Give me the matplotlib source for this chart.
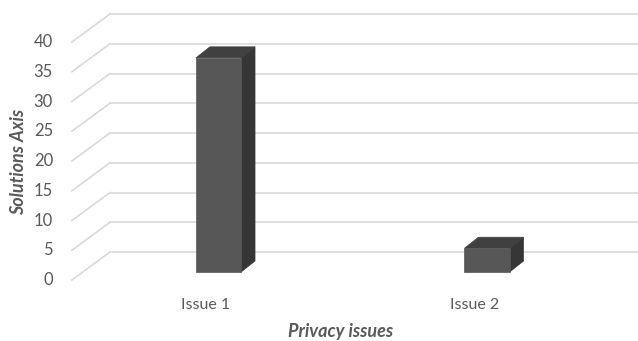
import matplotlib
matplotlib.use("Agg")
import matplotlib.pyplot as plt
from matplotlib.patches import Polygon

categories = ["Issue 1", "Issue 2"]
values = [36, 4]
yticks = [0, 5, 10, 15, 20, 25, 30, 35, 40]

# geometry (data units: x = category slot, y = value)
bar_w = 0.168
bar_dx, bar_dy = 0.052, 1.85      # depth of each bar
base_dy = 1.34                    # bars sit a little behind the front plane
wall_x = -0.546                   # left edge of floor / wall
wall_dx, wall_dy = 0.1415, 4.7    # depth of the floor

fig = plt.figure(figsize=(6.38, 3.41), dpi=100)
ax = fig.add_axes([0, 0, 1, 1])
ax.set_xlim(-0.8138, 1.5624)
ax.set_ylim(-10.25, 47.06)
ax.axis("off")

grid_c = "#d9d9d9"
for v in yticks:
    ax.plot([wall_x, wall_x + wall_dx], [v, v + wall_dy], color=grid_c, lw=1.2, zorder=1)
    ax.plot([wall_x + wall_dx, 1.5624], [v + wall_dy, v + wall_dy], color=grid_c, lw=1.2, zorder=1)
    ax.text(-0.6164, v, str(v), ha="right", va="center", fontsize=12,
            color="#595959", family="Lato")

for i, (name, val) in enumerate(zip(categories, values)):
    x0, x1 = i - bar_w / 2, i + bar_w / 2
    y0, y1 = base_dy, base_dy + val
    front = [(x0, y0), (x1, y0), (x1, y1), (x0, y1)]
    side = [(x1, y0), (x1 + bar_dx, y0 + bar_dy), (x1 + bar_dx, y1 + bar_dy), (x1, y1)]
    top = [(x0, y1), (x1, y1), (x1 + bar_dx, y1 + bar_dy), (x0 + bar_dx, y1 + bar_dy)]
    ax.add_patch(Polygon(side, closed=True, fc="#363636", ec="#363636", lw=0.5, zorder=3))
    ax.add_patch(Polygon(top, closed=True, fc="#404040", ec="#404040", lw=0.5, zorder=3))
    ax.add_patch(Polygon(front, closed=True, fc="#575757", ec="#575757", lw=0.5, zorder=4))
    ax.text(i - 0.047, -4.2, name, ha="center", va="center", fontsize=11.5,
            color="#595959", family="Lato")

ax.text(0.455, -8.6, "Privacy issues", ha="center", va="center", fontsize=13,
        color="#595959", family="Lato", weight="bold", style="italic")
ax.text(-0.745, 19.9, "Solutions Axis", ha="center", va="center", fontsize=13,
        color="#595959", family="Lato", weight="bold", style="italic", rotation=90)

fig.savefig("out.png", dpi=100, facecolor="white")
